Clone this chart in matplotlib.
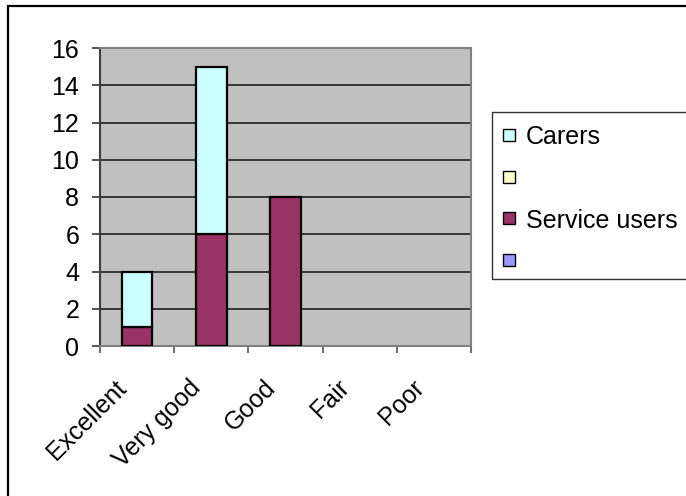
import matplotlib
matplotlib.use("Agg")
import matplotlib.pyplot as plt
from matplotlib.patches import Rectangle
import matplotlib.transforms as mtransforms
import numpy as np

plt.rcParams['font.family'] = ['Liberation Sans', 'DejaVu Sans']

categories = ["Excellent", "Very good", "Good", "Fair", "Poor"]
# stacked from the bottom up
series_names = ["", "Service users", "", "Carers"]
series_values = [
    [0, 0, 0, 0, 0],
    [1, 6, 8, 0, 0],
    [0, 0, 0, 0, 0],
    [3, 9, 0, 0, 0],
]
series_colors = ["#9999FF", "#993366", "#FFFFCC", "#CCFFFF"]
y_ticks = [0, 2, 4, 6, 8, 10, 12, 14, 16]

FS = 18
W, H = 686, 496
fig = plt.figure(figsize=(W / 100, H / 100), dpi=100)
fig.patch.set_facecolor("white")

ax = fig.add_axes([100 / W, 1 - 346 / H, 371 / W, 298 / H])
ax.set_facecolor("#C0C0C0")

x = np.arange(len(categories)) + 0.5
bottom = np.zeros(len(categories))
for vals, col in zip(series_values, series_colors):
    vals = np.array(vals, dtype=float)
    mask = vals > 0
    ax.bar(x[mask], vals[mask], width=0.41, bottom=bottom[mask], color=col,
           edgecolor="black", linewidth=1.6, zorder=3)
    bottom += vals

ax.set_xlim(0, len(categories))
ax.set_ylim(0, 16)
ax.set_yticks(y_ticks)
ax.set_yticklabels([str(v) for v in y_ticks], fontsize=FS)
for v in y_ticks[1:-1]:
    ax.axhline(v, color="#111111", linewidth=1.1, zorder=1)

ax.set_xticks(np.arange(len(categories) + 1))
ax.set_xticklabels([])
ax.tick_params(axis="x", which="major", length=5, width=1.2, color="#555555")
ax.tick_params(axis="y", length=6, width=1.2, color="#333333", pad=9)

# category labels, rotated 45 degrees below each category centre
label_tf = ax.get_xaxis_transform() + mtransforms.ScaledTranslation(-14 / 100, -38 / 100, fig.dpi_scale_trans)
for xc, name in zip(x, categories):
    ax.text(xc, 0, name, transform=label_tf, fontsize=FS, rotation=45,
            rotation_mode="anchor", ha="right", va="center", clip_on=False)

for side in ["top", "right", "bottom"]:
    ax.spines[side].set_color("#808080")
    ax.spines[side].set_linewidth(1.5)
ax.spines["left"].set_color("#404040")
ax.spines["left"].set_linewidth(1.5)

# chart frame
fig.add_artist(Rectangle((8 / W, -0.1), 1.2, 1 - 6 / H + 0.1, transform=fig.transFigure,
                         fill=False, edgecolor="black", linewidth=1.6))

# legend box
fig.add_artist(Rectangle((492 / W, 1 - 279 / H), 0.5, 167 / H, transform=fig.transFigure,
                         fill=False, edgecolor="#333333", linewidth=1.0))
legend_rows = [(135, 3), (176.7, 2), (218.3, 1), (260, 0)]
for yc, idx in legend_rows:
    fig.add_artist(Rectangle((503 / W, 1 - (yc + 6) / H), 12 / W, 12 / H,
                             transform=fig.transFigure, facecolor=series_colors[idx],
                             edgecolor="black", linewidth=1.0))
    fig.text(526 / W, 1 - yc / H, series_names[idx], fontsize=FS,
             ha="left", va="center_baseline")

fig.savefig("out.png", dpi=100)
